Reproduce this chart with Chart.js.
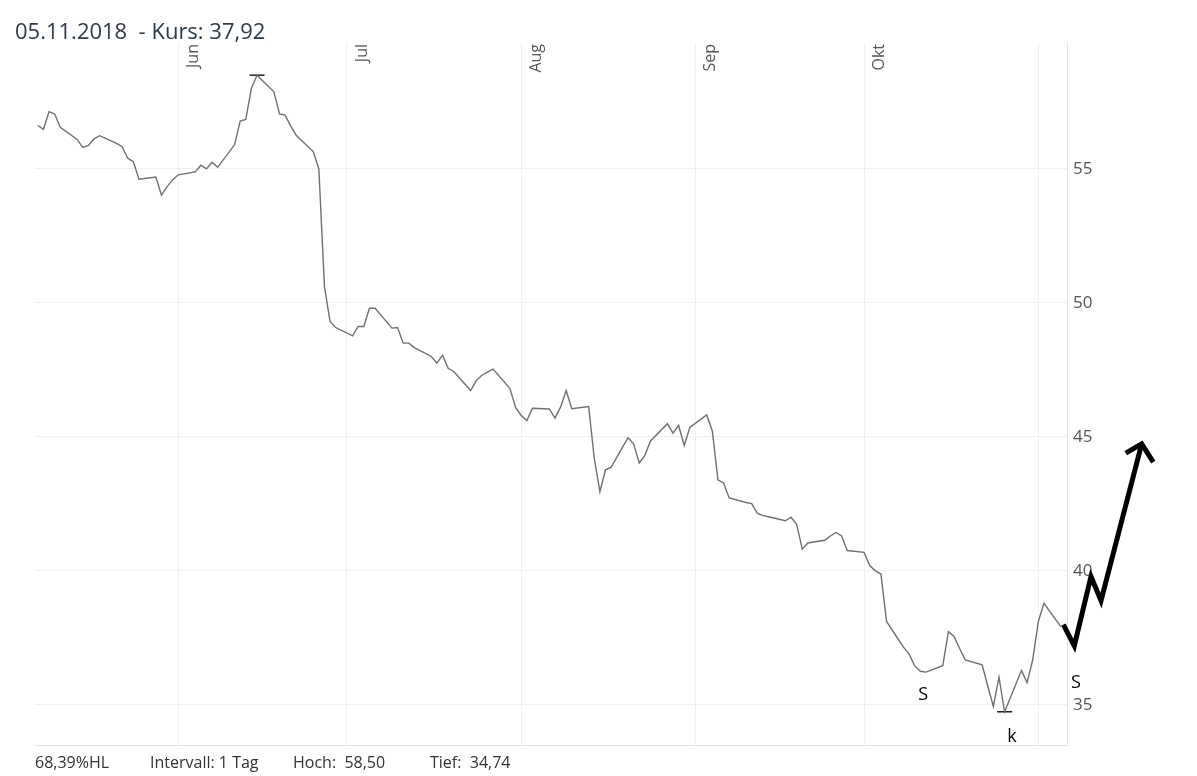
<!DOCTYPE html>
<html>
<head>
<meta charset="utf-8">
<script src="https://cdn.jsdelivr.net/npm/chart.js@4.4.1/dist/chart.umd.min.js"></script>
<style>
  html, body { margin: 0; padding: 0; background: #fff; }
  #wrap { position: relative; width: 1197px; height: 776px; }
  #title { position: absolute; left: 15px; top: 15px; font: 22px "Open Sans", sans-serif; color: #2d3b48; white-space: pre; }
  .foot { position: absolute; top: 751px; font: 16px "Open Sans", sans-serif; color: #333; white-space: pre; }
</style>
</head>
<body>
<div id="wrap">
  <canvas id="myChart" width="1197" height="776"></canvas>
  <div id="title">05.11.2018  - Kurs: 37,92</div>
  <div class="foot" style="left:35px">68,39%HL</div>
  <div class="foot" style="left:150px">Intervall: 1 Tag</div>
  <div class="foot" style="left:293px">Hoch:  58,50</div>
  <div class="foot" style="left:430px">Tief:  34,74</div>
</div>
<script>
// trading days (Mon-Fri) from first to last close
var firstDay = '2018-05-07';
var lastDay = '2018-11-05';

// daily closes, one per trading day
var prices = [
  56.62, 56.48, 57.14, 57.05, 56.55,
  56.10, 55.80, 55.88, 56.12, 56.24,
  55.95, 55.83, 55.40, 55.27, 54.62,
  54.70, 54.02, 54.34, 54.60, 54.78,
  54.89, 55.14, 55.00, 55.25, 55.06,
  55.90, 56.79, 56.85, 58.01, 58.50,
  57.88, 57.05, 57.01, 56.60, 56.25,
  55.65, 55.00, 50.60, 49.30, 49.08,
  48.77, 49.12, 49.12, 49.80, 49.80,
  49.06, 49.08, 48.50, 48.50, 48.33,
  48.00, 47.75, 48.05, 47.56, 47.44,
  46.73, 47.10, 47.30, 47.42, 47.53,
  46.80, 46.10, 45.80, 45.61, 46.07,
  46.04, 45.70, 46.11, 46.73, 46.05,
  46.13, 44.20, 42.96, 43.77, 43.87,
  44.97, 44.74, 44.03, 44.31, 44.85,
  45.49, 45.14, 45.43, 44.68, 45.35,
  45.82, 45.22, 43.40, 43.28, 42.72,
  42.55, 42.51, 42.15, 42.06, 42.02,
  41.87, 42.00, 41.74, 40.81, 41.04,
  41.14, 41.30, 41.43, 41.30, 40.76,
  40.69, 40.20, 40.00, 39.88, 38.11,
  37.15, 36.90, 36.45, 36.25, 36.22,
  36.46, 37.73, 37.55, 37.10, 36.68,
  36.49, 35.70, 34.94, 36.03, 34.74,
  36.28, 35.83, 36.68, 38.11, 38.79,
  37.92
];

var monthStarts = ['2018-06-01', '2018-07-01', '2018-08-01', '2018-09-01', '2018-10-01', '2018-11-01'];
var monthLabels = ['Jun', 'Jul', 'Aug', 'Sep', 'Okt', ''];
var yTicks = [35, 40, 45, 50, 55];

// hand drawn arrow, days after the last close
var arrowDays = [0.45, 2.40, 5.37, 7.15, 14.39];
var arrowValues = [37.99, 37.20, 39.79, 38.89, 44.74];
var arrowHeadDays = [11.55, 14.39, 16.45];
var arrowHeadValues = [44.39, 44.74, 44.06];

// letters written on the chart
var notes = ['S', 'k', 'S'];
var noteDays = [-24.5, -8.7, 2.7];
var noteValues = [35.37, 33.81, 35.82];

function dayNum(s) {
  var p = s.split('-');
  return Date.UTC(+p[0], p[1] - 1, +p[2]) / 864e5;
}

var days = [];
for (var d = dayNum(firstDay); d <= dayNum(lastDay); d++) {
  var wd = new Date(d * 864e5).getUTCDay();
  if (wd > 0 && wd < 6) days.push(d);
}
var lastX = days[days.length - 1];
var xMin = dayNum(firstDay) - 0.5;
var xMax = lastX + 1.1;

var pricePoints = days.map(function (x, i) { return { x: x, y: prices[i] }; });
var hi = prices.indexOf(Math.max.apply(null, prices));
var lo = prices.indexOf(Math.min.apply(null, prices));
var extremes = [pricePoints[hi], pricePoints[lo]];
var arrowBody = arrowDays.map(function (v, i) { return { x: lastX + v, y: arrowValues[i] }; });
var arrowHead = arrowHeadDays.map(function (v, i) { return { x: lastX + v, y: arrowHeadValues[i] }; });

var textPlugin = {
  id: 'texts',
  afterDraw: function (chart) {
    var c = chart.ctx;
    var xs = chart.scales.x, ys = chart.scales.y;
    var top = chart.chartArea.top;
    c.save();
    c.fillStyle = '#555';
    c.font = '16px "Open Sans"';
    monthStarts.forEach(function (m, i) {
      if (!monthLabels[i]) return;
      c.save();
      c.translate(xs.getPixelForValue(dayNum(m)) + 20, top + 1);
      c.rotate(-Math.PI / 2);
      c.textAlign = 'right';
      c.textBaseline = 'alphabetic';
      c.fillText(monthLabels[i], 0, 0);
      c.restore();
    });
    c.fillStyle = '#000';
    c.font = '18px "Open Sans"';
    c.textAlign = 'center';
    c.textBaseline = 'middle';
    notes.forEach(function (t, i) {
      c.fillText(t, xs.getPixelForValue(lastX + noteDays[i]), ys.getPixelForValue(noteValues[i]));
    });
    c.restore();
  }
};

var ctx = document.getElementById('myChart').getContext('2d');
var chart = new Chart(ctx, {
  type: 'line',
  data: {
    datasets: [{
      data: pricePoints,
      borderColor: '#6a7177',
      borderWidth: 1.4,
      pointRadius: 0,
      tension: 0
    }, {
      data: extremes,
      showLine: false,
      pointStyle: 'line',
      pointRadius: 7.5,
      borderColor: '#222',
      borderWidth: 1.5
    }, {
      data: arrowBody,
      borderColor: '#000',
      borderWidth: 5,
      borderJoinStyle: 'miter',
      pointRadius: 0,
      clip: false
    }, {
      data: arrowHead,
      borderColor: '#000',
      borderWidth: 5,
      borderJoinStyle: 'miter',
      pointRadius: 0,
      clip: false
    }]
  },
  options: {
    responsive: false,
    animation: false,
    layout: { padding: { left: 35, top: 43, right: 0, bottom: 0 } },
    plugins: { legend: { display: false }, tooltip: { enabled: false } },
    scales: {
      x: {
        type: 'linear',
        position: 'bottom',
        bounds: 'data',
        afterDataLimits: function (s) { s.min = xMin; s.max = xMax; },
        afterBuildTicks: function (s) { s.ticks = monthStarts.map(function (m) { return { value: dayNum(m) }; }); },
        afterFit: function (s) { s.height = 31; },
        ticks: { display: false },
        grid: { color: '#f0f0f0', drawTicks: false },
        border: { color: '#e3e3e3' }
      },
      y: {
        position: 'right',
        min: 33.5,
        max: 59.7,
        afterBuildTicks: function (s) { s.ticks = yTicks.map(function (v) { return { value: v }; }); },
        afterFit: function (s) { s.width = 130; },
        ticks: { padding: 6, color: '#555', font: { family: 'Open Sans', size: 17 } },
        grid: { color: '#f0f0f0', drawTicks: false },
        border: { color: '#e3e3e3' }
      }
    }
  },
  plugins: [textPlugin]
});
</script>
</body>
</html>
